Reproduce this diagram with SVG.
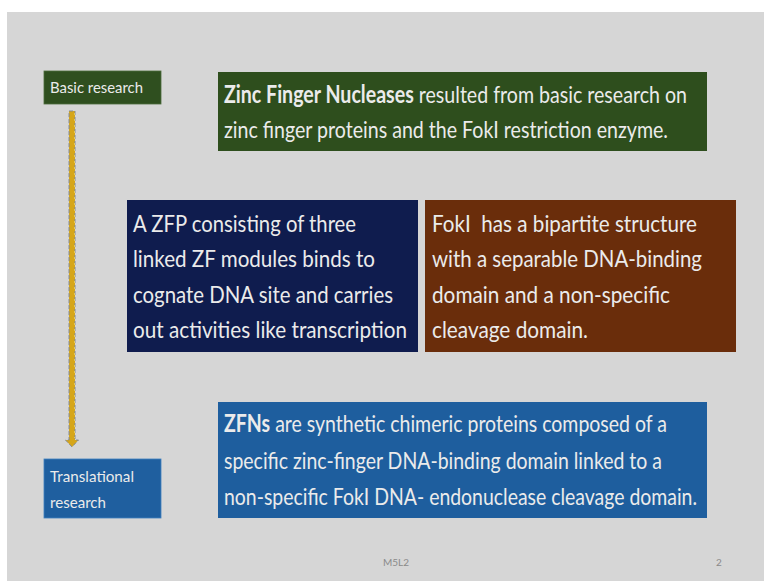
<svg xmlns="http://www.w3.org/2000/svg" width="764" height="581" viewBox="0 0 764 581">
<style>
.t{font-family:Lato,"Open Sans","Liberation Sans",sans-serif;fill:#ebebeb;font-size:24px}
.b{font-weight:bold}
.s{font-family:Lato,"Open Sans","Liberation Sans",sans-serif;fill:#ebebeb;font-size:16px}
.f{font-family:Lato,"Open Sans","Liberation Sans",sans-serif;fill:#8a8a8a;font-size:10px}
</style>
<rect x="0" y="0" width="764" height="581" fill="#ffffff"/>
<rect x="7" y="12" width="757" height="569" fill="#d6d6d6"/>
<g id="connectors">
<path d="M69,111 H75 V440 H78.5 L72,447 L65.5,440 H69 Z" fill="#d6a619" stroke="#7d8796" stroke-width="0.9" stroke-dasharray="4 2"/>
<line x1="74.5" y1="113" x2="74.5" y2="438" stroke="#f2d35a" stroke-width="0.8" stroke-dasharray="2 4"/>
</g>
<g id="basic-research">
<rect x="44" y="71" width="117" height="33" fill="#2f4f1f" stroke="#4d6d3c" stroke-width="0.8"/>
<text class="s" x="50" y="93" textLength="93" lengthAdjust="spacingAndGlyphs">Basic research</text>
</g>
<g id="translational-research">
<rect x="44" y="459" width="117" height="59" fill="#1f5f9f" stroke="#3f80c0" stroke-width="0.8"/>
<text class="s" x="50" y="482" textLength="84" lengthAdjust="spacingAndGlyphs">Translational</text>
<text class="s" x="50" y="508" textLength="56" lengthAdjust="spacingAndGlyphs">research</text>
</g>
<g id="zfn-origin">
<rect x="218" y="72" width="489" height="79" fill="#2e4e1d"/>
<text class="t" x="224" y="103" textLength="463" lengthAdjust="spacingAndGlyphs"><tspan class="b">Zinc Finger Nucleases</tspan> resulted from basic research on</text>
<text class="t" x="224" y="138" textLength="444" lengthAdjust="spacingAndGlyphs">zinc finger proteins and the FokI restriction enzyme.</text>
</g>
<g id="zfp">
<rect x="127" y="200" width="291" height="152" fill="#0f1c4e"/>
<text class="t" x="133" y="232" textLength="223" lengthAdjust="spacingAndGlyphs">A ZFP consisting of three</text>
<text class="t" x="133" y="267" textLength="242" lengthAdjust="spacingAndGlyphs">linked ZF modules binds to</text>
<text class="t" x="133" y="303" textLength="260" lengthAdjust="spacingAndGlyphs">cognate DNA site and carries</text>
<text class="t" x="133" y="338" textLength="274" lengthAdjust="spacingAndGlyphs">out activities like transcription</text>
</g>
<g id="foki">
<rect x="425" y="200" width="311" height="152" fill="#6a2d0b"/>
<text class="t" x="432" y="232" textLength="265" lengthAdjust="spacingAndGlyphs" xml:space="preserve">FokI  has a bipartite structure</text>
<text class="t" x="432" y="267" textLength="270" lengthAdjust="spacingAndGlyphs">with a separable DNA-binding</text>
<text class="t" x="432" y="303" textLength="238" lengthAdjust="spacingAndGlyphs">domain and a non-specific</text>
<text class="t" x="432" y="338" textLength="156" lengthAdjust="spacingAndGlyphs">cleavage domain.</text>
</g>
<g id="zfns">
<rect x="218" y="402" width="489" height="116" fill="#1e5e9e"/>
<text class="t" x="224" y="432" textLength="443" lengthAdjust="spacingAndGlyphs"><tspan class="b">ZFNs</tspan> are synthetic chimeric proteins composed of a</text>
<text class="t" x="224" y="469" textLength="438" lengthAdjust="spacingAndGlyphs">specific zinc-finger DNA-binding domain linked to a</text>
<text class="t" x="224" y="505" textLength="473" lengthAdjust="spacingAndGlyphs">non-specific FokI DNA- endonuclease cleavage domain.</text>
</g>
<g id="footer">
<text class="f" x="383" y="566">M5L2</text>
<text class="f" x="716" y="566">2</text>
</g>
</svg>
